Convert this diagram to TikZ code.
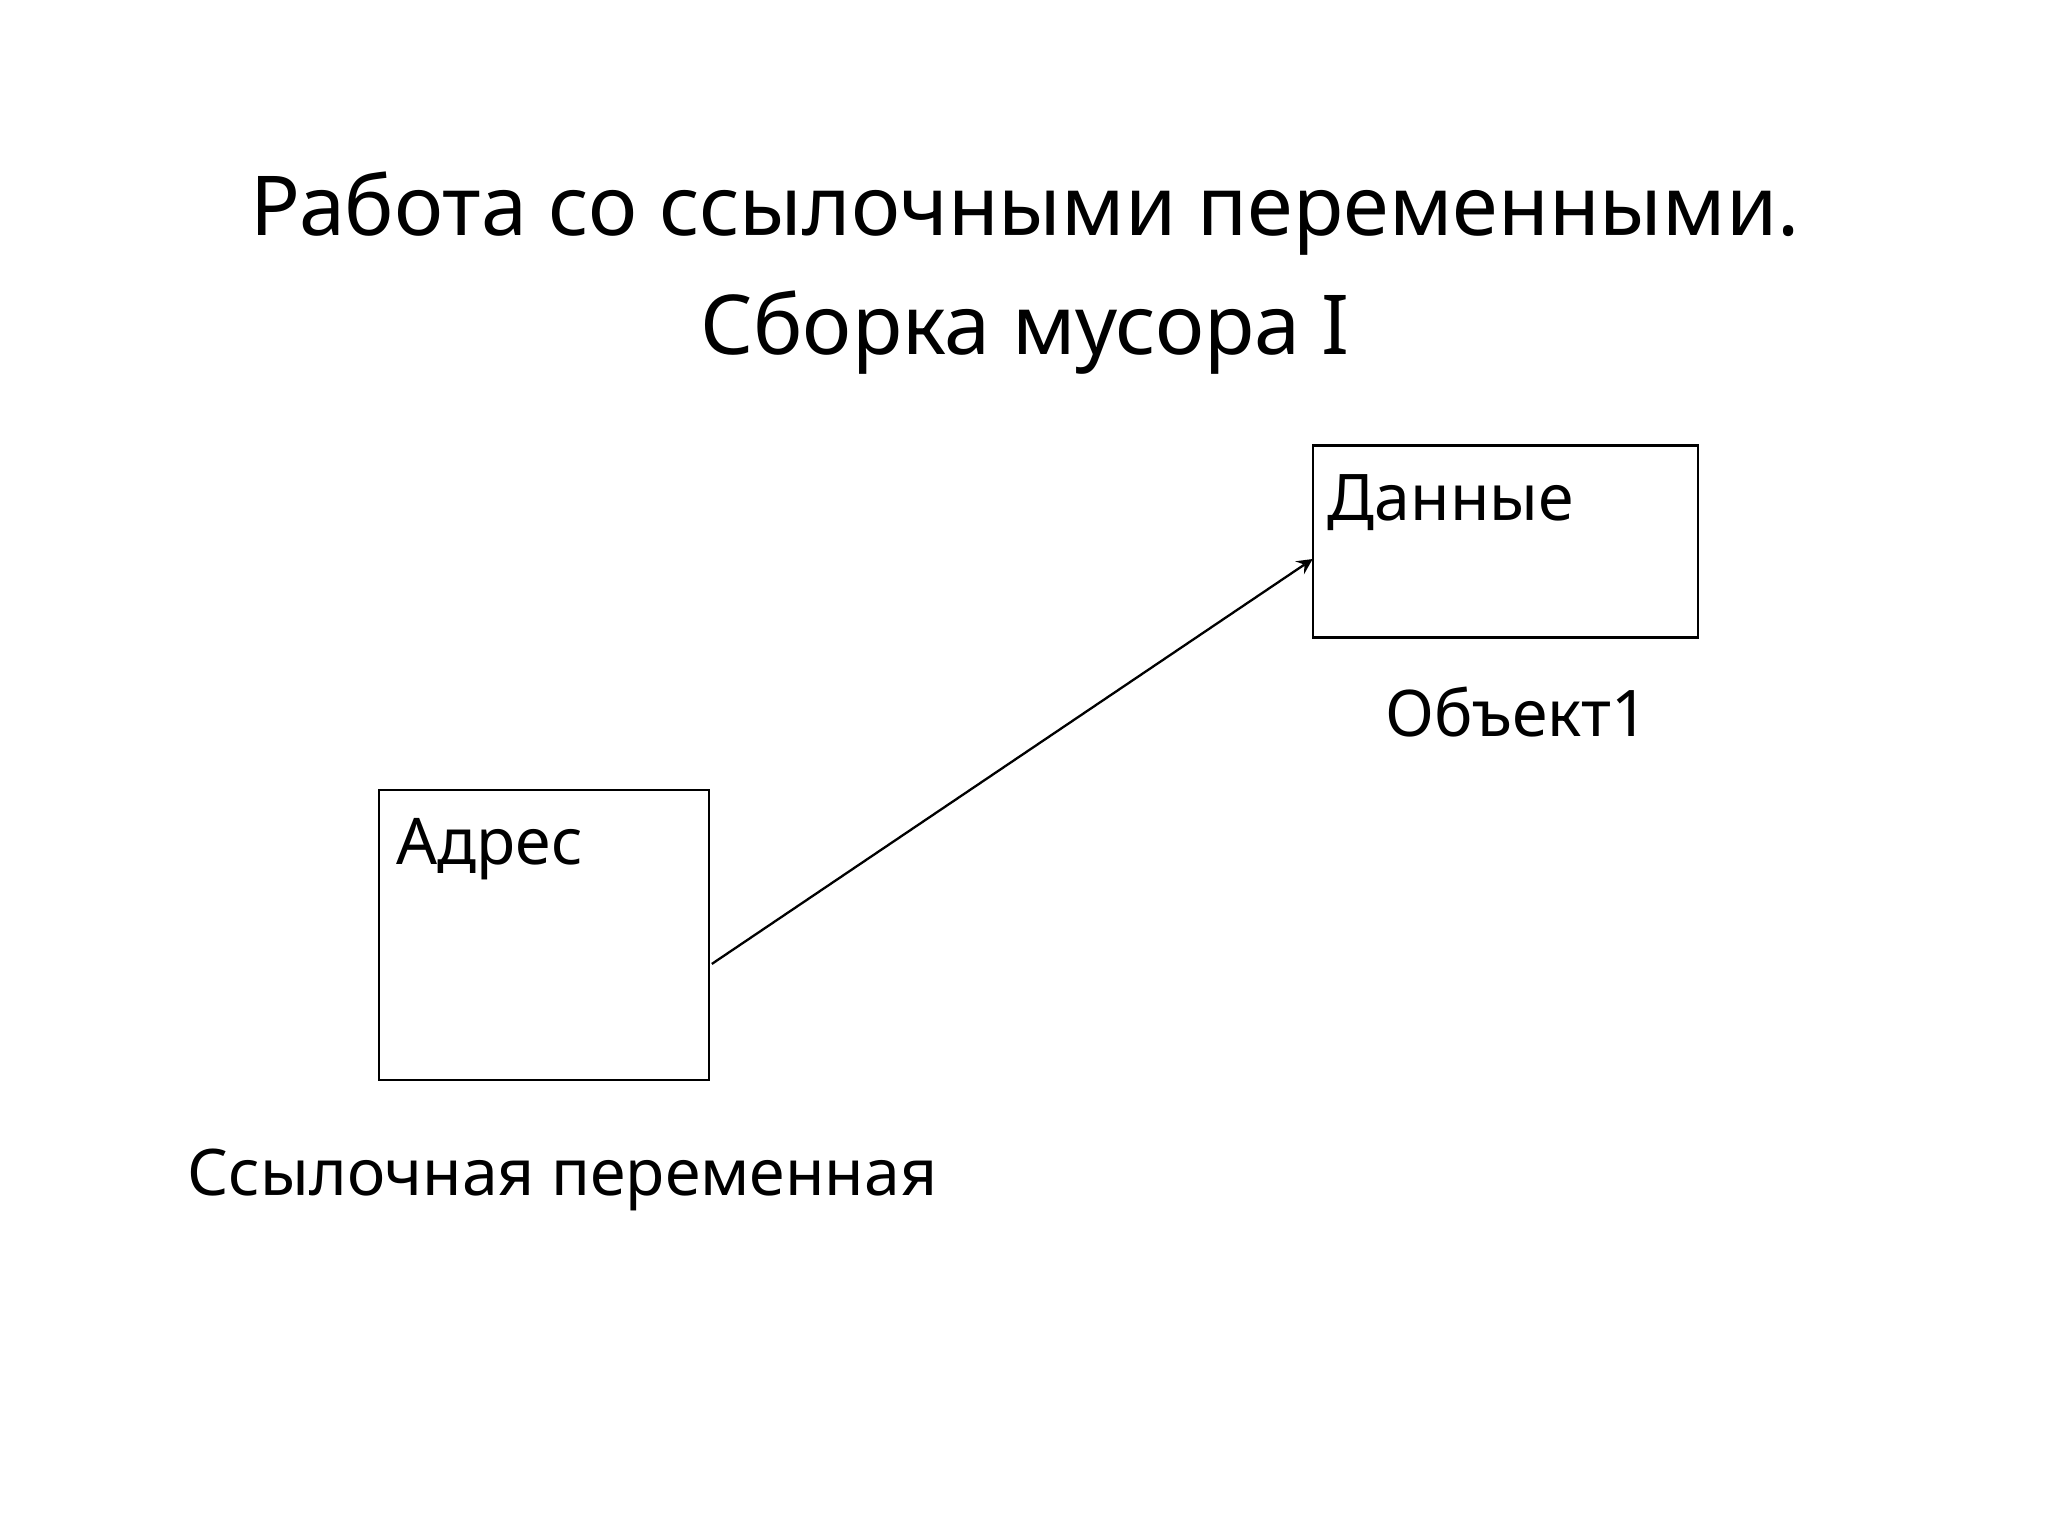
\documentclass[tikz,border=0pt]{standalone}
\usepackage{fontspec}
\setmainfont{Noto Sans}
\begin{document}
\begin{tikzpicture}[x=0.01cm,y=-0.01cm,
  box/.style={draw,line width=0.5pt,inner sep=0},
  lbl/.style={font=\fontsize{14}{16}\selectfont,anchor=west,inner sep=0},
  ttl/.style={font=\fontsize{18}{26}\selectfont\bfseries,align=center}]
\useasboundingbox (0,0) rectangle (1568,1175);
\draw[box] (290,605) rectangle (543,827);
\draw[box] (1005,341) rectangle (1300,488);
\coordinate (A) at (545,738);
\coordinate (D) at (1005,428);
\draw[-stealth,line width=0.5pt] (A) -- (D);
\node[ttl] (t) at (785,209) {Работа со ссылочными переменными.\\Сборка мусора I};
\node[lbl] (d) at (1016,385) {Данные};
\node[lbl] (a) at (303,650) {Адрес};
\node[lbl] (o) at (1060,545) {Объект1};
\node[lbl] (s) at (143,903) {Ссылочная переменная};
\end{tikzpicture}
\end{document}
